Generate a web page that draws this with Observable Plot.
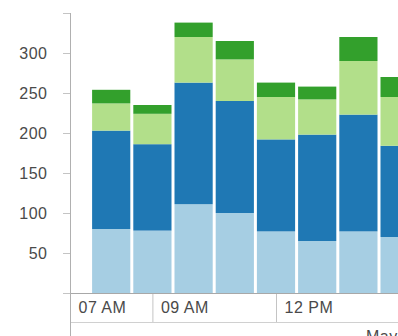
<!DOCTYPE html>
<html>
<head>
<meta charset="utf-8">
<script src="https://cdn.jsdelivr.net/npm/d3@7"></script>
<script src="https://cdn.jsdelivr.net/npm/@observablehq/plot@0.6"></script>
<style>
  html, body { margin: 0; padding: 0; background: #fff; overflow: hidden; }
  #chart svg { overflow: hidden; }
  #chart svg text { fill: #4a4a4a; }
</style>
</head>
<body>
<div id="chart"></div>
<script>
// Hourly counts, stacked in four series (bottom to top)
const hours = [8, 9, 10, 11, 12, 13, 14, 15];
const seriesNames = ["Series A", "Series B", "Series C", "Series D"];
const seriesA = [80, 78, 111, 100, 77, 65, 77, 70];
const seriesB = [123, 108, 152, 140, 115, 133, 146, 114];
const seriesC = [34, 38, 57, 52, 53, 44, 67, 61];
const seriesD = [17, 11, 18, 23, 18, 16, 30, 25];
const seriesColors = ["#a6cee3", "#1f78b4", "#b2df8a", "#33a02c"];

// Axis ticks
const yTicks = [0, 50, 100, 150, 200, 250, 300, 350];
const yLabels = [50, 100, 150, 200, 250, 300];
const xTickHours = [7, 9, 12];
const xTickLabels = ["07 AM", "09 AM", "12 PM"];
const dateLabel = "May 12, 2016";
const dateLabelHour = 14.17;

const day = (h) => new Date(Date.UTC(2016, 4, 12) + h * 3600e3);
const halfHour = 30 * 60e3;

const table = [];
[seriesA, seriesB, seriesC, seriesD].forEach((values, s) => {
  values.forEach((v, i) => {
    const t = day(hours[i]);
    table.push({
      start: new Date(+t - halfHour),
      end: new Date(+t + halfHour),
      series: seriesNames[s],
      value: v
    });
  });
});

const xTicks = xTickHours.map(day);
const xTickRows = xTicks.map((t, i) => ({time: t, label: xTickLabels[i]}));

const chart = Plot.plot({
  width: 398,
  height: 336,
  marginLeft: 70,
  marginRight: 0,
  marginTop: 13,
  marginBottom: 43,
  style: {
    fontFamily: "'Liberation Sans', Arial, sans-serif",
    fontSize: "16px",
    letterSpacing: "0.5px",
    color: "#c4c4c4",
    background: "#fff"
  },
  x: {
    type: "utc",
    domain: [day(7), day(7 + 328 / 41.2)],
    ticks: xTicks,
    tickSize: 29,
    tickFormat: () => "",
    label: null
  },
  y: {
    domain: [0, 350],
    ticks: yTicks,
    tickSize: 7,
    tickPadding: 16,
    tickFormat: (d) => (yLabels.includes(d) ? String(d) : ""),
    label: null
  },
  color: {domain: seriesNames, range: seriesColors},
  marks: [
    Plot.rectY(table, Plot.stackY({
      x1: "start",
      x2: "end",
      y: "value",
      fill: "series",
      insetLeft: 1.5,
      insetRight: 1.5
    })),
    // baseline and lower tier line
    Plot.ruleY([0], {stroke: "#a8a8a8"}),
    Plot.ruleY([0], {stroke: "#d0d0d0", dy: 29}),
    // vertical axis line running through both tiers
    Plot.ruleX([day(7)], {stroke: "#b0b0b0", insetBottom: -43}),
    Plot.text(xTickRows, {
      x: "time",
      text: "label",
      frameAnchor: "bottom",
      dx: 8,
      dy: 8,
      lineAnchor: "top",
      textAnchor: "start"
    }),
    Plot.text([{time: day(dateLabelHour), label: dateLabel}], {
      x: "time",
      text: "label",
      frameAnchor: "bottom",
      dy: 37,
      lineAnchor: "top",
      textAnchor: "start"
    })
  ]
});

document.getElementById("chart").appendChild(chart);
</script>
</body>
</html>
